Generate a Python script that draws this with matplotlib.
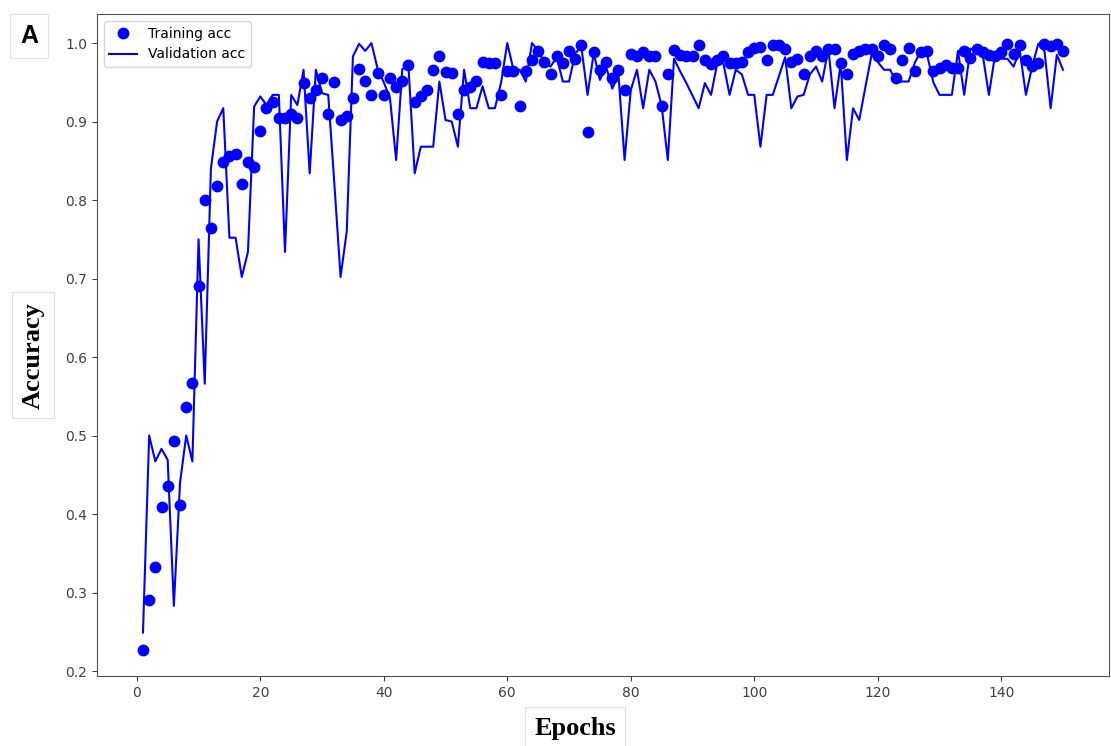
"""Training / validation accuracy curves (panel A)."""
import numpy as np
import matplotlib
matplotlib.use('Agg')
import matplotlib.pyplot as plt

# ============================================================
# Data
# ============================================================

train_acc = [
    0.227, 0.290, 0.333, 0.409, 0.436, 0.493, 0.411, 0.536, 0.567, 0.691,
    0.800, 0.764, 0.818, 0.849, 0.856, 0.859, 0.821, 0.849, 0.842, 0.888,
    0.917, 0.925, 0.904, 0.904, 0.910, 0.905, 0.949, 0.930, 0.940, 0.955,
    0.910, 0.950, 0.902, 0.907, 0.930, 0.967, 0.952, 0.934, 0.962, 0.934,
    0.956, 0.944, 0.952, 0.972, 0.925, 0.932, 0.940, 0.966, 0.983, 0.963,
    0.962, 0.910, 0.940, 0.944, 0.952, 0.976, 0.975, 0.975, 0.934, 0.965,
    0.965, 0.920, 0.965, 0.979, 0.990, 0.976, 0.961, 0.983, 0.975, 0.990,
    0.980, 0.997, 0.887, 0.988, 0.966, 0.976, 0.955, 0.966, 0.940, 0.986,
    0.984, 0.988, 0.984, 0.984, 0.920, 0.960, 0.991, 0.985, 0.983, 0.984,
    0.997, 0.979, 0.973, 0.979, 0.984, 0.974, 0.974, 0.976, 0.988, 0.994,
    0.995, 0.978, 0.997, 0.997, 0.993, 0.976, 0.980, 0.961, 0.983, 0.990,
    0.983, 0.993, 0.993, 0.975, 0.960, 0.986, 0.990, 0.992, 0.992, 0.984,
    0.997, 0.993, 0.955, 0.979, 0.994, 0.965, 0.988, 0.990, 0.965, 0.968,
    0.972, 0.968, 0.968, 0.990, 0.981, 0.993, 0.989, 0.985, 0.984, 0.989,
    0.999, 0.986, 0.997, 0.979, 0.971, 0.975, 0.999, 0.996, 0.999, 0.990,
]

val_acc = [
    0.249, 0.500, 0.467, 0.483, 0.469, 0.283, 0.440, 0.500, 0.467, 0.750,
    0.566, 0.840, 0.900, 0.917, 0.752, 0.752, 0.702, 0.734, 0.919, 0.932,
    0.921, 0.934, 0.934, 0.734, 0.934, 0.921, 0.966, 0.834, 0.966, 0.936,
    0.934, 0.820, 0.702, 0.760, 0.983, 0.999, 0.990, 1.000, 0.967, 0.950,
    0.930, 0.851, 0.967, 0.970, 0.834, 0.868, 0.868, 0.868, 0.951, 0.902,
    0.900, 0.868, 0.966, 0.917, 0.917, 0.945, 0.917, 0.917, 0.950, 1.000,
    0.966, 0.966, 0.951, 1.000, 0.990, 0.976, 0.970, 0.982, 0.951, 0.951,
    0.987, 0.995, 0.934, 0.987, 0.953, 0.970, 0.942, 0.960, 0.851, 0.940,
    0.966, 0.917, 0.966, 0.951, 0.920, 0.851, 0.980, 0.964, 0.949, 0.933,
    0.917, 0.949, 0.934, 0.974, 0.974, 0.934, 0.966, 0.960, 0.934, 0.934,
    0.868, 0.934, 0.934, 0.958, 0.982, 0.917, 0.932, 0.934, 0.960, 0.970,
    0.951, 0.993, 0.917, 0.974, 0.851, 0.917, 0.902, 0.944, 0.985, 0.976,
    0.966, 0.966, 0.951, 0.951, 0.951, 0.975, 0.990, 0.985, 0.950, 0.934,
    0.934, 0.934, 0.990, 0.934, 0.993, 0.990, 0.985, 0.934, 0.985, 0.980,
    0.980, 0.970, 0.990, 0.934, 0.970, 0.999, 0.990, 0.917, 0.985, 0.966,
]

epochs = np.arange(1, len(train_acc) + 1)

# ============================================================
# Figure
# ============================================================

fig = plt.figure(figsize=(11.11, 7.46), dpi=100)
ax = fig.add_axes([0.0873, 0.0938, 0.9109, 0.8874])

ax.plot(epochs, train_acc, 'bo', markersize=7.5, label='Training acc')
ax.plot(epochs, val_acc, 'b', linewidth=1.5, label='Validation acc')

ax.set_ylim(0.1936, 1.037)
ax.set_yticks([0.2, 0.3, 0.4, 0.5, 0.6, 0.7, 0.8, 0.9, 1.0])
ax.set_xticks([0, 20, 40, 60, 80, 100, 120, 140])

tick_col = '#404040'
ax.tick_params(colors=tick_col, labelsize=10)
for sp in ax.spines.values():
    sp.set_color('#505050')

ax.legend(loc='upper left', fontsize=10)

# axis labels sit in their own white boxes, outside the axes
box = dict(boxstyle='square,pad=0.35', facecolor='white',
           edgecolor='#e0e0e0', linewidth=0.8)
fig.text(0.0297, 0.524, 'Accuracy', rotation=90, ha='center', va='center',
         family='Liberation Serif', fontweight='bold', fontsize=19, bbox=box)
fig.text(0.5175, 0.024, 'Epochs', ha='center', va='center',
         family='Liberation Serif', fontweight='bold', fontsize=19, bbox=box)
fig.text(0.0261, 0.952, 'A', ha='center', va='center',
         family='Liberation Sans', fontweight='bold', fontsize=18,
         bbox=dict(boxstyle='square,pad=0.4', facecolor='white',
                   edgecolor='#e0e0e0', linewidth=0.8))

fig.savefig('out.png', dpi=100, facecolor='white')
